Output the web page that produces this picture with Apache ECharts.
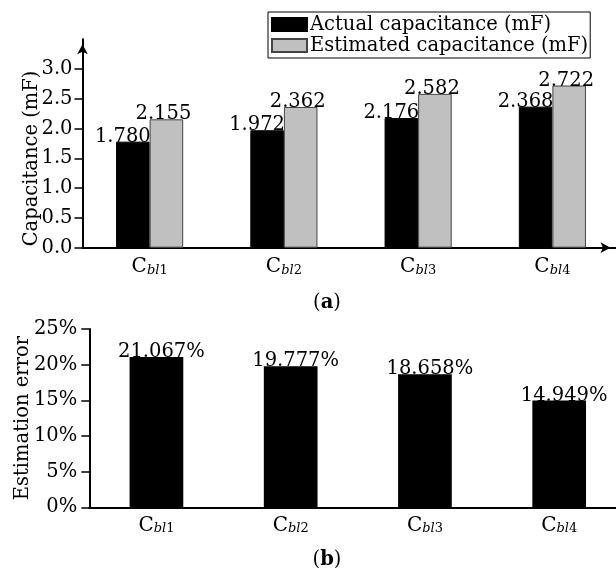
<!DOCTYPE html>
<html>
<head>
<meta charset="utf-8">
<script src="https://cdn.jsdelivr.net/npm/echarts@6/dist/echarts.min.js"></script>
<style>
html,body{margin:0;padding:0;background:#fff;}
#c{width:616px;height:572px;}
</style>
</head>
<body>
<div id="c"></div>
<script>
// ---- data ----
const categories = ['bl1', 'bl2', 'bl3', 'bl4'];
const seriesNames = ['Actual capacitance (mF)', 'Estimated capacitance (mF)'];
const actualCap = [1.780, 1.972, 2.176, 2.368];
const estimatedCap = [2.155, 2.362, 2.582, 2.722];
const estimationError = [21.067, 19.777, 18.658, 14.949];
const capTicks = [0, 0.5, 1.0, 1.5, 2.0, 2.5, 3.0];
const errTicks = [0, 5, 10, 15, 20, 25];

const FONT = 'DejaVu Serif';
const FS = 19.5;
const chart = echarts.init(document.getElementById('c'), null, {renderer: 'canvas'});

function catFmt(v) {
  const m = v.match(/^([a-z]+)(\d+)$/);
  return '{c|C}{s|' + m[1] + '}{n|' + m[2] + '}';
}
const catRich = {
  c: {fontFamily: FONT, fontSize: 20, color: '#000', verticalAlign: 'bottom', lineHeight: 22},
  s: {fontFamily: FONT, fontSize: 13, fontStyle: 'italic', color: '#000', verticalAlign: 'bottom', lineHeight: 19},
  n: {fontFamily: FONT, fontSize: 13, color: '#000', verticalAlign: 'bottom', lineHeight: 19}
};

const axisLineStyle = {color: '#000', width: 2};
const capRich = {
  n: {fontFamily: FONT, fontSize: FS, fontWeight: 'normal', color: '#000'},
  b: {fontFamily: FONT, fontSize: FS, fontWeight: 'bold', color: '#000'}
};

chart.setOption({
  animation: false,
  backgroundColor: '#fff',
  textStyle: {fontFamily: FONT, color: '#000'},
  title: [
    {text: '{n|(}{b|a}{n|)}', left: 322, top: 288, textAlign: 'center',
     textStyle: {fontWeight: 'normal', rich: capRich}},
    {text: '{n|(}{b|b}{n|)}', left: 322, top: 545, textAlign: 'center',
     textStyle: {fontWeight: 'normal', rich: capRich}}
  ],
  legend: {
    orient: 'vertical',
    left: 268, top: 12,
    padding: [2, 2, 2, 3],
    itemWidth: 35, itemHeight: 13, itemGap: 0,
    borderColor: '#000', borderWidth: 1, backgroundColor: '#fff',
    icon: 'rect',
    textStyle: {fontFamily: FONT, fontSize: FS, color: '#000', lineHeight: 21, padding: [0, 0, 0, -2]},
    data: seriesNames
  },
  grid: [
    {left: 82.5, top: 39.2, width: 537, height: 208.5, outerBoundsMode: 'none', containLabel: false},
    {left: 89.3, top: 328.9, width: 537, height: 178.4, outerBoundsMode: 'none', containLabel: false}
  ],
  xAxis: [
    {type: 'category', gridIndex: 0, data: categories,
     axisLine: {lineStyle: axisLineStyle, symbol: ['none', 'arrow'], symbolSize: [8, 10], symbolOffset: [0, -9]},
     axisTick: {alignWithLabel: true, length: 4, lineStyle: {color: '#000', width: 1.5}},
     axisLabel: {interval: 0, formatter: catFmt, rich: catRich, margin: 7}},
    {type: 'category', gridIndex: 1, data: categories,
     axisLine: {lineStyle: axisLineStyle},
     axisTick: {alignWithLabel: true, length: 4, lineStyle: {color: '#000', width: 1.5}},
     axisLabel: {interval: 0, formatter: catFmt, rich: catRich, margin: 6}}
  ],
  yAxis: [
    {type: 'value', gridIndex: 0, min: 0, max: 3.5, interval: 0.5,
     name: 'Capacitance (mF)', nameLocation: 'middle', nameGap: 41, nameMoveOverlap: false,
     nameTextStyle: {fontFamily: FONT, fontSize: FS, color: '#000', padding: [0, 30, 0, 0]},
     axisLine: {show: true, lineStyle: axisLineStyle, symbol: ['none', 'arrow'], symbolSize: [8, 10], symbolOffset: [0, -5]},
     axisTick: {show: true, length: 8, customValues: capTicks, lineStyle: {color: '#000', width: 1.5}},
     axisLabel: {fontFamily: FONT, fontSize: FS, color: '#000', margin: 10, customValues: capTicks,
                 formatter: v => (v > 3.01 ? '' : v.toFixed(1))},
     splitLine: {show: false}},
    {type: 'value', gridIndex: 1, min: 0, max: 25, interval: 5,
     name: 'Estimation error', nameLocation: 'middle', nameGap: 56, nameMoveOverlap: false,
     nameTextStyle: {fontFamily: FONT, fontSize: FS, color: '#000'},
     axisLine: {show: true, lineStyle: axisLineStyle},
     axisTick: {show: true, length: 8, customValues: errTicks, lineStyle: {color: '#000', width: 1.5}},
     axisLabel: {fontFamily: FONT, fontSize: FS, color: '#000', margin: 12, customValues: errTicks,
                 formatter: '{value}%'},
     splitLine: {show: false}}
  ],
  series: [
    {name: seriesNames[0], type: 'bar', xAxisIndex: 0, yAxisIndex: 0, data: actualCap,
     barWidth: '25%', barGap: '0%',
     itemStyle: {color: '#000', borderColor: '#000', borderWidth: 1},
     label: {show: true, position: 'top', distance: -5, offset: [-10, 0],
             fontFamily: FONT, fontSize: FS, color: '#000', formatter: p => p.value.toFixed(3)}},
    {name: seriesNames[1], type: 'bar', xAxisIndex: 0, yAxisIndex: 0, data: estimatedCap,
     barWidth: '25%', barGap: '0%',
     itemStyle: {color: '#c0c0c0', borderColor: '#444', borderWidth: 1},
     label: {show: true, position: 'top', distance: -5, offset: [-3, 0],
             fontFamily: FONT, fontSize: FS, color: '#000', formatter: p => p.value.toFixed(3)}},
    {name: 'Estimation error', type: 'bar', xAxisIndex: 1, yAxisIndex: 1, data: estimationError,
     barWidth: '40%',
     itemStyle: {color: '#000'},
     label: {show: true, position: 'top', distance: -5, offset: [5, 0],
             fontFamily: FONT, fontSize: FS, color: '#000', formatter: p => p.value.toFixed(3) + '%'}}
  ]
});
</script>
</body>
</html>
